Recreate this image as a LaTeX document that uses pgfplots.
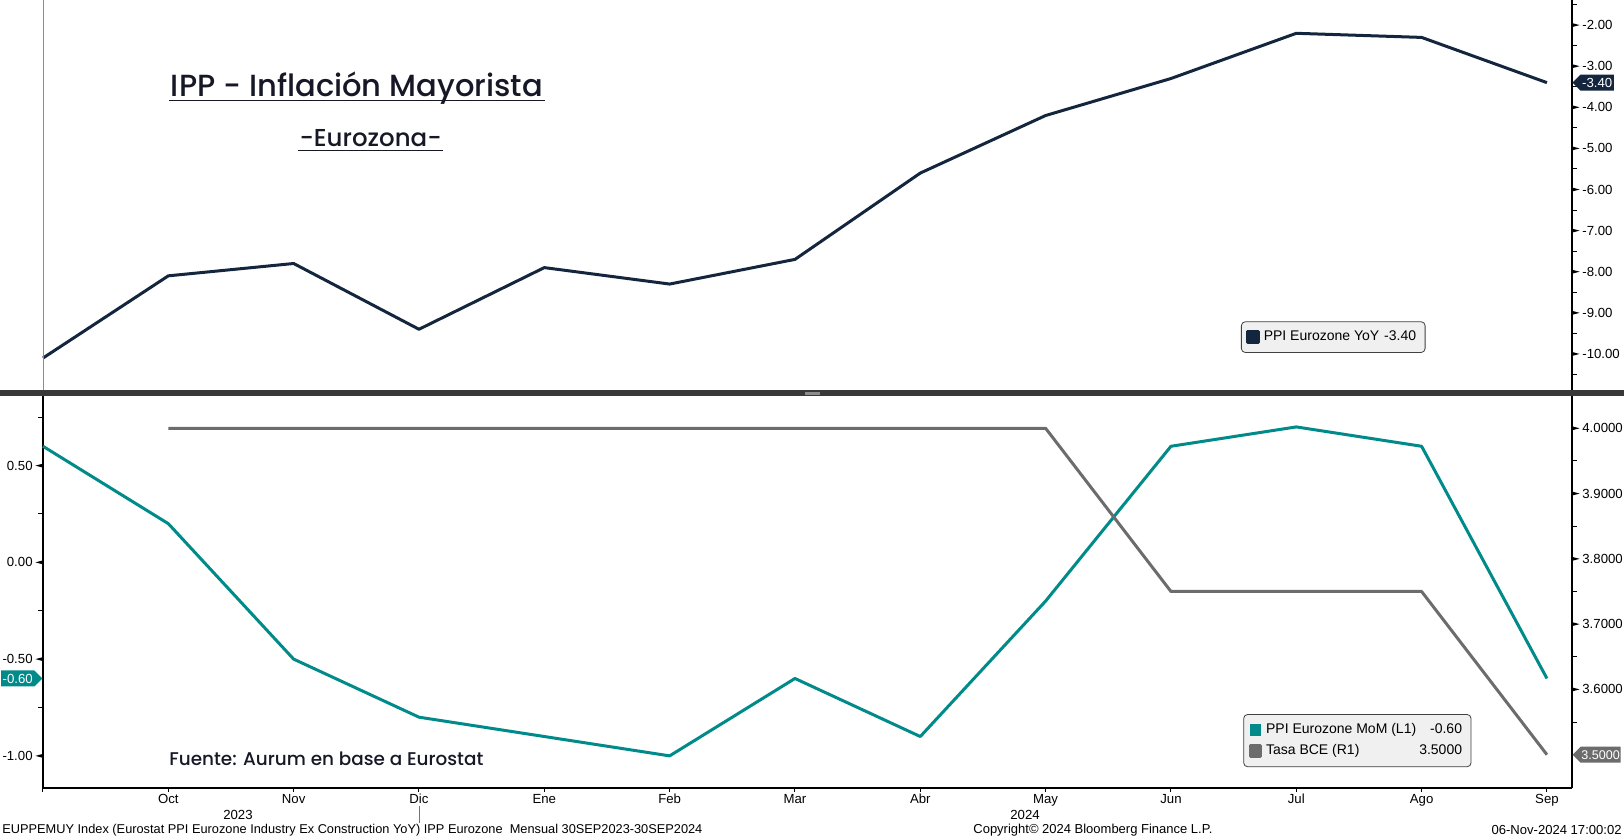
\documentclass[border=0pt]{standalone}
\usepackage{pgfplots}
\pgfplotsset{compat=1.18}
\usepackage{fontspec}
\setmainfont{Liberation Sans}
\newfontfamily\titlefont{Poppins Medium}
\usetikzlibrary{shapes.symbols}
\definecolor{navy}{RGB}{20,38,62}
\definecolor{teal2}{RGB}{0,138,138}
\definecolor{gr}{RGB}{108,108,108}
\definecolor{legfill}{RGB}{240,240,240}
\definecolor{ttl}{RGB}{22,24,38}

\tikzset{
  valtag/.style={signal, text=white, inner xsep=0.8pt, inner ysep=1.2pt,
      font=\fontsize{6.6}{8}\selectfont, minimum height=8pt},
}
\pgfplotsset{
  bbg/.style={
    scale only axis, clip=false,
    width=764.5pt,
    xmin=0, xmax=12.2,
    tick align=outside,
    major tick length=2pt, minor tick length=2.5pt,
    every tick/.style={black, line width=0.5pt},
    axis line style={line width=0.6pt, black},
    ticklabel style={font=\fontsize{6.6}{8}\selectfont, inner sep=1pt},
    /pgf/number format/assume math mode=true,
    legend style={fill=legfill, draw=black!75, rounded corners=2pt,
      font=\fontsize{7}{8.3}\selectfont, inner sep=2.5pt, row sep=0pt},
    legend cell align=left,
  },
}

\begin{document}
\begin{tikzpicture}
\useasboundingbox (0,0) rectangle (812pt,420pt);

% ---------- top panel ----------
\begin{axis}[bbg,
  at={(21.5pt,223.5pt)}, anchor=south west, height=196.5pt,
  ymin=-10.95, ymax=-1.39,
  axis x line=none, axis y line*=right,
  ytick={-10,-9,...,-2},
  minor ytick={-10.5,-9.5,...,-1.5},
  yticklabel style={xshift=2pt, /pgf/number format/fixed, /pgf/number format/fixed zerofill, /pgf/number format/precision=2},
  legend style={at={(0.7835,0.102)}, anchor=south west},
]
\addplot[navy, line width=1.5pt, line join=round,
  legend image code/.code={\fill[navy, sharp corners] (0pt,-2.6pt) rectangle (5.2pt,2.6pt);}] coordinates {
 (0,-10.1) (1,-8.1) (2,-7.8) (3,-9.4) (4,-7.9) (5,-8.3) (6,-7.7)
 (7,-5.6) (8,-4.2) (9,-3.3) (10,-2.2) (11,-2.3) (12,-3.4)};
\addlegendentry{PPI Eurozone YoY\hspace{2.5pt}-3.40}
\pgfplotsinvokeforeach{-10,-9,-8,-7,-6,-5,-4,-3,-2}{
  \fill ([yshift=1pt]axis cs:12.2,#1) -- ([yshift=-1pt]axis cs:12.2,#1) -- ([xshift=3.8pt]axis cs:12.2,#1) -- cycle;
}
\node[valtag, signal to=west, fill=navy, anchor=west]
      at (axis cs:12.2,-3.4) {-3.40};
\end{axis}

% ---------- bottom panel: left axis ----------
\begin{axis}[bbg,
  at={(21.5pt,26pt)}, anchor=south west, height=196.5pt,
  ymin=-1.166, ymax=0.865,
  axis x line*=bottom, axis y line*=left,
  xtick={0,...,12},
  xticklabels={,Oct,Nov,Dic,Ene,Feb,Mar,Abr,May,Jun,Jul,Ago,Sep},
  ytick={-1,-0.5,0,0.5},
  minor ytick={-0.75,-0.25,0.25,0.75},
  yticklabel style={xshift=-2pt, /pgf/number format/fixed, /pgf/number format/fixed zerofill, /pgf/number format/precision=2},
]
\addplot[teal2, line width=1.5pt, line join=round] coordinates {
 (0,0.6) (1,0.2) (2,-0.5) (3,-0.8) (4,-0.9) (5,-1.0) (6,-0.6)
 (7,-0.9) (8,-0.2) (9,0.6) (10,0.7) (11,0.6) (12,-0.6)};
\pgfplotsinvokeforeach{-1,-0.5,0,0.5}{
  \fill ([yshift=1pt]axis cs:0,#1) -- ([yshift=-1pt]axis cs:0,#1) -- ([xshift=-3.8pt]axis cs:0,#1) -- cycle;
}
\node[valtag, signal to=east, fill=teal2, anchor=east]
      at (axis cs:0,-0.6) {-0.60};
\end{axis}

% ---------- bottom panel: right axis ----------
\begin{axis}[bbg,
  at={(21.5pt,26pt)}, anchor=south west, height=196.5pt,
  ymin=3.449, ymax=4.051,
  axis x line=none, axis y line*=right,
  ytick={3.6,3.7,3.8,3.9,4.0},
  minor ytick={3.55,3.65,3.75,3.85,3.95},
  yticklabel style={xshift=2pt, /pgf/number format/fixed, /pgf/number format/fixed zerofill, /pgf/number format/precision=4},
  legend style={at={(0.785,0.053)}, anchor=south west},
]
\addlegendimage{legend image code/.code={\fill[teal2, sharp corners] (0pt,-2.6pt) rectangle (5.2pt,2.6pt);}}
\addlegendentry{\makebox[98pt][l]{PPI Eurozone MoM (L1)\hfill -0.60}}
\addplot[gr, line width=1.5pt, line join=round,
  legend image code/.code={\fill[gr, sharp corners] (0pt,-2.6pt) rectangle (5.2pt,2.6pt);}] coordinates {
 (1,4.0) (8,4.0) (9,3.75) (10,3.75) (11,3.75) (12,3.5)};
\addlegendentry{\makebox[98pt][l]{Tasa BCE (R1)\hfill 3.5000}}
\pgfplotsinvokeforeach{3.6,3.7,3.8,3.9,4.0}{
  \fill ([yshift=1pt]axis cs:12.2,#1) -- ([yshift=-1pt]axis cs:12.2,#1) -- ([xshift=3.8pt]axis cs:12.2,#1) -- cycle;
}
\node[valtag, signal to=west, fill=gr, anchor=west, font=\fontsize{6.3}{8}\selectfont, inner xsep=0.4pt]
      at (axis cs:12.2,3.5) {3.5000};
\end{axis}

% separator and decorations
\fill[black!78] (0,222pt) rectangle (812pt,224.8pt);
\fill[black!45] (402.5pt,222.6pt) rectangle (410pt,224.2pt);
\draw[black!45, line width=0.5pt] (21.5pt,224.8pt) -- (21.5pt,420pt);

% year labels
\node[font=\fontsize{6.6}{8}\selectfont] at (119pt,12.5pt) {2023};
\node[font=\fontsize{6.6}{8}\selectfont] at (512.5pt,12.5pt) {2024};
\draw[black!55, line width=0.4pt] (209.75pt,8.5pt) -- (209.75pt,17pt);

% title
\node[text=ttl, anchor=base, inner sep=0pt] at (178.5pt,371.8pt) {\resizebox{186pt}{!}{\titlefont IPP - Inflación Mayorista}};
\draw[ttl, line width=0.6pt] (84.5pt,369.6pt) -- (272.5pt,369.6pt);
\node[text=ttl, anchor=base, inner sep=0pt] at (185.3pt,346.6pt) {\resizebox{71pt}{!}{\titlefont -Eurozona-}};
\draw[ttl, line width=0.6pt] (149pt,344.8pt) -- (221.5pt,344.8pt);
\node[text=ttl, anchor=west, inner sep=0pt] at (84.5pt,40.5pt) {\resizebox{157pt}{!}{\titlefont Fuente: Aurum en base a Eurostat}};

% footer
\node[anchor=west, inner sep=0pt] at (1pt,5pt) {\resizebox{350pt}{!}{EUPPEMUY Index (Eurostat PPI Eurozone Industry Ex Construction YoY) IPP Eurozone\ \ Mensual 30SEP2023-30SEP2024}};
\node[anchor=west, inner sep=0pt] at (486.5pt,5pt) {\resizebox{119.5pt}{!}{Copyright© 2024 Bloomberg Finance L.P.}};
\node[anchor=east, inner sep=0pt] at (811pt,5pt) {\resizebox{65pt}{!}{06-Nov-2024 17:00:02}};
\end{tikzpicture}
\end{document}
